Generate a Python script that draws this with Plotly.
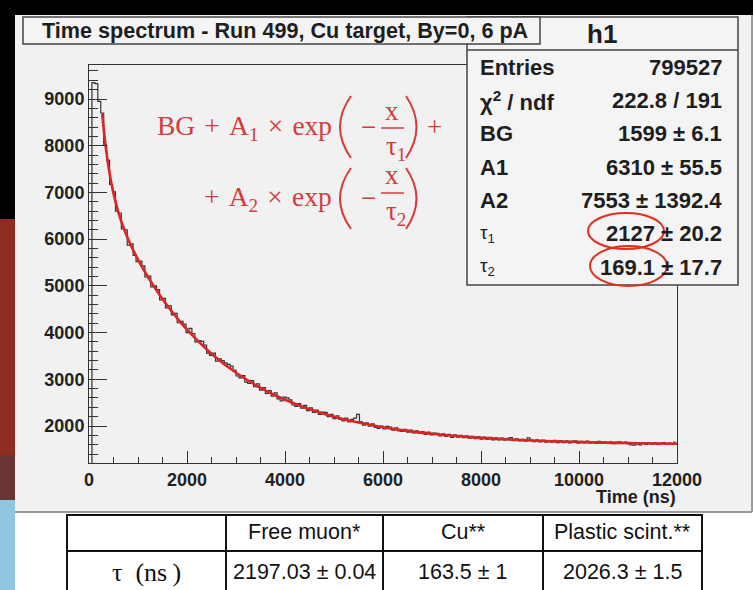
import plotly.graph_objects as go

# ---------------- data ----------------
TITLE = "Time spectrum - Run 499, Cu target, By=0, 6 pA"
BIN_WIDTH = 60  # ns, histogram binning 0..12000
COUNTS = [
    0, 9350, 9330, 8950, 8700, 8010, 7690, 7170, 7010, 6600,
    6560, 6220, 6200, 5870, 5900, 5650, 5520, 5530, 5430, 5190,
    5210, 4980, 5000, 4920, 4700, 4730, 4530, 4570, 4380, 4410,
    4210, 4240, 4180, 4000, 4090, 3980, 3800, 3830, 3810, 3730,
    3560, 3510, 3560, 3390, 3440, 3400, 3350, 3320, 3280, 3190,
    3070, 3030, 3080, 2940, 2910, 2970, 2840, 2900, 2770, 2820,
    2700, 2760, 2640, 2710, 2580, 2540, 2620, 2600, 2560, 2450,
    2420, 2480, 2380, 2440, 2330, 2390, 2290, 2340, 2250, 2300,
    2290, 2200, 2250, 2160, 2220, 2140, 2110, 2170, 2090, 2140,
    2170, 2250, 2090, 2020, 2070, 1995, 2045, 1970, 1950, 2000,
    1940, 1990, 1975, 1910, 1960, 1895, 1885, 1930, 1870, 1910,
    1855, 1895, 1840, 1880, 1820, 1870, 1810, 1850, 1845, 1790,
    1830, 1780, 1820, 1755, 1810, 1760, 1800, 1750, 1790, 1740,
    1780, 1730, 1775, 1720, 1760, 1715, 1755, 1705, 1745, 1700,
    1740, 1695, 1735, 1750, 1685, 1725, 1680, 1715, 1675, 1745,
    1705, 1665, 1705, 1660, 1700, 1655, 1690, 1655, 1695, 1645,
    1685, 1645, 1680, 1640, 1675, 1680, 1635, 1670, 1640, 1675,
    1635, 1665, 1630, 1670, 1635, 1660, 1625, 1660, 1620, 1655,
    1660, 1625, 1655, 1615, 1595, 1590, 1615, 1595, 1645, 1605,
    1640, 1610, 1645, 1605, 1635, 1645, 1610, 1635, 1605, 1655,
]
FIT_X = [270, 300, 350, 400, 450, 500, 600, 700, 800, 900, 1000, 1100, 1200,
         1400, 1600, 1800, 2000, 2500, 3000, 3500, 4000, 4500, 5000, 5500,
         6000, 6500, 7000, 7500, 8000, 8500, 9000, 9500, 10000, 10500,
         11000, 11500, 12000]
FIT_Y = [8687, 8360, 7905, 7536, 7234, 6980, 6575, 6260, 5998, 5769, 5562,
         5372, 5194, 4868, 4573, 4306, 4063, 3547, 3139, 2816, 2561, 2359,
         2200, 2074, 1975, 1896, 1834, 1785, 1746, 1715, 1691, 1671, 1656,
         1644, 1635, 1627, 1621]
X_TICKS = [0, 2000, 4000, 6000, 8000, 10000, 12000]
Y_TICKS = [2000, 3000, 4000, 5000, 6000, 7000, 8000, 9000]
STATS_NAME = "h1"
STATS_LABELS = ["Entries", "χ<sup>2</sup> / ndf", "BG", "A1", "A2",
                "τ<sub>1</sub>", "τ<sub>2</sub>"]
STATS_VALUES = ["799527", "222.8 / 191", "1599 ± 6.1", "6310 ± 55.5",
                "7553 ± 1392.4", "2127 ± 20.2", "169.1 ± 17.7"]
TABLE_HEADER = ["", "Free muon*", "Cu**", "Plastic scint.**"]
TABLE_ROW = ["τ\u2002(ns\u2009)", "2197.03 ± 0.04", "163.5 ± 1", "2026.3 ± 1.5"]

# ---------------- helpers (pixel -> paper) ----------------
W, H = 753, 590
def px(x):
    return x / W
def py(y):
    return 1 - y / H

SANS = "Liberation Sans, Arial, sans-serif"
SERIF = "Liberation Serif, Times New Roman, serif"
RED = "#dd2424"
FRED = "#d43c3c"
DARK = "#1e1e1e"
SP = " \u200a"  # slightly wider math spacing

centers = [BIN_WIDTH * (i + 0.5) for i in range(len(COUNTS))]

fig = go.Figure()
fig.add_trace(go.Scatter(x=centers, y=COUNTS, mode="lines", line_shape="hvh",
                         line=dict(color="#333333", width=1.2), hoverinfo="skip"))
fig.add_trace(go.Scatter(x=FIT_X, y=FIT_Y, mode="lines", line_shape="spline",
                         line=dict(color=RED, width=2.6), hoverinfo="skip"))

shapes = []
def rect(x0, y0, x1, y1, fill, line=None, lw=0, layer="below"):
    shapes.append(dict(type="rect", xref="paper", yref="paper",
                       x0=px(x0), x1=px(x1), y0=py(y1), y1=py(y0),
                       fillcolor=fill, layer=layer,
                       line=dict(color=line or fill, width=lw)))
def seg(x0, y0, x1, y1, color, lw, layer="above"):
    shapes.append(dict(type="line", xref="paper", yref="paper",
                       x0=px(x0), x1=px(x1), y0=py(y0), y1=py(y1),
                       layer=layer, line=dict(color=color, width=lw)))

# background: screenshot surroundings
rect(0, 0, 753, 15, "#000000")
rect(0, 15, 15, 219, "#000000")
rect(0, 219, 15, 455, "#8f2d22")
rect(0, 455, 15, 500, "#6a3432")
rect(0, 500, 15, 590, "#8fc6e2")
rect(15, 15, 752, 512, "#f1f1f1")
seg(15, 512, 752, 512, "#9a9a9a", 2, layer="below")
seg(752, 15, 752, 512, "#9a9a9a", 2, layer="below")

# stats box
rect(467, 17, 738, 285, "#f4f4f4", "#444444", 1.5, layer="above")
seg(467, 50, 738, 50, "#444444", 1.5)
# title box (drawn on top of stats box corner)
rect(23, 17, 540, 44, "#f4f4f4", "#444444", 1.5, layer="above")
# red ellipses
for (x0, y0, x1, y1) in [(588, 213, 664, 249), (590, 246, 667, 286)]:
    shapes.append(dict(type="circle", xref="paper", yref="paper",
                       x0=px(x0), x1=px(x1), y0=py(y1), y1=py(y0),
                       layer="above", line=dict(color="#e0301e", width=2)))

# formula: fraction bars and parentheses
def paren(x_end, x_ctrl, y0, y1):
    ym = (y0 + y1) / 2
    shapes.append(dict(type="path", xref="paper", yref="paper", layer="above",
                       path=f"M {px(x_end)},{py(y0)} Q {px(x_ctrl)},{py(ym)} {px(x_end)},{py(y1)}",
                       line=dict(color=FRED, width=2)))
for (yt, yb, ybar) in [(96, 158, 128), (168, 229, 193)]:
    paren(351, 329, yt, yb)
    paren(406, 427, yt, yb)
    seg(381, ybar, 404, ybar, FRED, 1.5)

# table
rect(67, 515, 702, 594, "#ffffff", "#111111", 2, layer="above")
seg(67, 551, 702, 551, "#111111", 2)
for xc in [226, 383, 543]:
    seg(xc, 515, xc, 594, "#111111", 2)

anns = []
def txt(x, y, s, size, color=DARK, family=SANS, weight="normal", anchor="center"):
    anns.append(dict(xref="paper", yref="paper", x=px(x), y=py(y), text=s,
                     showarrow=False, xanchor=anchor, yanchor="middle",
                     font=dict(family=family, size=size, color=color, weight=weight)))

txt(285, 31, TITLE, 21.6, weight="bold")
txt(602, 34, STATS_NAME, 26, weight="bold")
rows_y = [68, 101, 134, 167, 200, 234, 267]
for lab, val, yy in zip(STATS_LABELS, STATS_VALUES, rows_y):
    if lab.startswith("τ"):
        txt(478, yy, lab, 19, anchor="left")
    else:
        txt(478, yy, lab, 22, weight="bold", anchor="left")
    txt(724, yy, val, 22, weight="bold", anchor="right")

# formula text
txt(334, 127, f"BG{SP}+{SP}A<sub>1</sub>{SP}×{SP}exp", 27.5, color=FRED, family=SERIF, anchor="right")
txt(368, 127, "−", 27, color=FRED, family=SERIF)
txt(392, 111, "x", 27, color=FRED, family=SERIF)
txt(396, 148, "τ<sub>1</sub>", 27, color=FRED, family=SERIF)
txt(434, 127, "+", 27, color=FRED, family=SERIF)
txt(334, 198, f"+{SP}A<sub>2</sub>{SP}×{SP}exp", 27.5, color=FRED, family=SERIF, anchor="right")
txt(368, 198, "−", 27, color=FRED, family=SERIF)
txt(392, 175, "x", 27, color=FRED, family=SERIF)
txt(396, 213, "τ<sub>2</sub>", 27, color=FRED, family=SERIF)

# x-axis title
txt(678, 497, "Time (ns)", 18, weight="bold", anchor="right")

# table text
col_c = [146, 304, 463, 622]
for c, s in zip(col_c[1:], TABLE_HEADER[1:]):
    txt(c, 532, s, 21.5, color="#111111")
txt(col_c[0], 572, TABLE_ROW[0], 26, color="#111111", family=SERIF)
for c, s in zip(col_c[1:], TABLE_ROW[1:]):
    txt(c, 572, s, 21.5, color="#111111")

axis_common = dict(showgrid=False, zeroline=False, showline=True, mirror=True,
                   linecolor="#333333", linewidth=1, ticks="inside",
                   tickcolor="#333333", tickwidth=1,
                   tickfont=dict(family=SANS, size=18, color="#222222", weight="bold"))
fig.update_layout(
    width=W, height=H, autosize=False, margin=dict(l=0, r=0, t=0, b=0, pad=0),
    paper_bgcolor="#ffffff", plot_bgcolor="#f1f1f1", showlegend=False,
    xaxis=dict(domain=[px(89), px(677)], range=[0, 12000], tickmode="array",
               tickvals=X_TICKS, ticktext=[str(v) for v in X_TICKS], ticklen=12,
               automargin=False,
               minor=dict(dtick=500, tick0=0, ticklen=6, ticks="inside",
                          tickcolor="#333333"),
               **axis_common),
    yaxis=dict(domain=[py(463), py(65)], range=[1208, 9728], tickmode="array",
               tickvals=Y_TICKS, ticktext=[str(v) for v in Y_TICKS], ticklen=18,
               automargin=False,
               minor=dict(dtick=200, tick0=0, ticklen=9, ticks="inside",
                          tickcolor="#333333"),
               **axis_common),
    shapes=shapes, annotations=anns,
)
PAGE_CSS = ("document.documentElement.style.margin='0';"
            "document.documentElement.style.overflow='hidden';"
            "document.body.style.margin='0';document.body.style.padding='0';"
            "document.body.style.overflow='hidden';")
fig.write_html(
    "out.html",
    config={"displayModeBar": False, "responsive": False},
    post_script="}); " + PAGE_CSS + " (function(){",
)
